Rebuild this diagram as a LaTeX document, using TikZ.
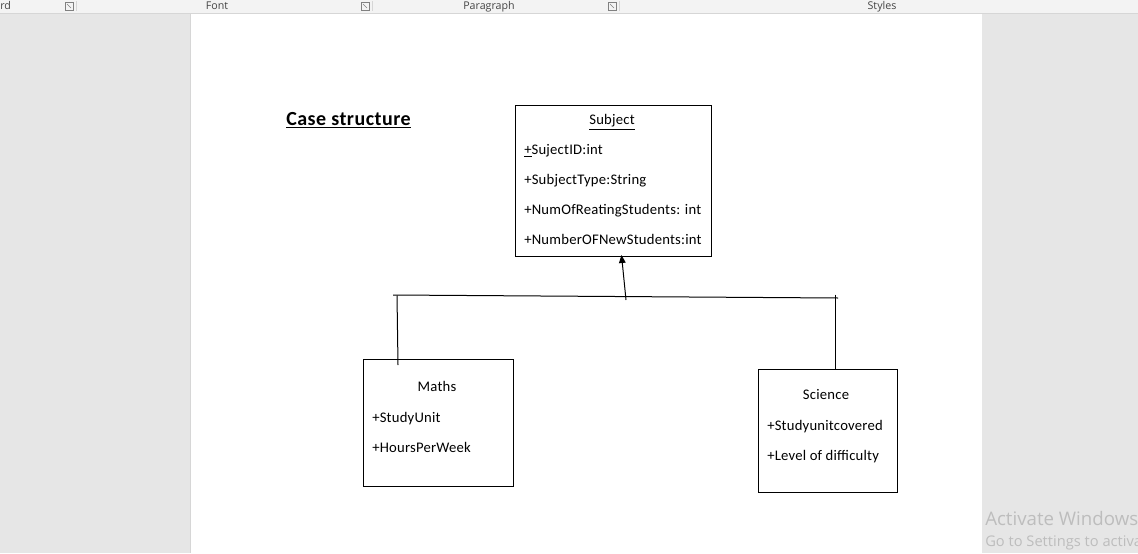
\documentclass[tikz,border=0pt]{standalone}
\usepackage{fontspec}
\setmainfont{Carlito}
\newfontfamily\uifont{Open Sans}
\usetikzlibrary{arrows.meta}

\definecolor{ribbon}{HTML}{F3F3F3}
\definecolor{ribbonline}{HTML}{D6D6D6}
\definecolor{desk}{HTML}{E6E6E6}
\definecolor{uitext}{HTML}{444444}
\definecolor{watermark}{HTML}{BDBDBD}

\tikzset{
  umlbox/.style={draw, line width=0.75pt, inner sep=0pt},
  attr/.style={anchor=base west, inner sep=0pt, font=\addfontfeatures{LetterSpace=1.5}\fontsize{11}{13}\selectfont},
  classname/.style={anchor=base, inner sep=0pt, font=\addfontfeatures{LetterSpace=1.5}\fontsize{11}{13}\selectfont},
  grouplabel/.style={anchor=base, inner sep=0pt, text=uitext, font=\uifont\fontsize{8}{9}\selectfont},
  launcher/.style={draw=gray, line width=0.5pt},
  link/.style={line width=0.75pt},
}

\begin{document}
\begin{tikzpicture}[x=0.75pt, y=-0.75pt]
  \def\px{0.75pt} % one screen pixel
  \useasboundingbox (0,0) rectangle (1138,553);
  \clip (0,0) rectangle (1138,553);

  % window and page
  \fill[desk] (0,14) rectangle (1138,553);
  \fill[white] (191,14) rectangle (982,553);
  \draw[ribbonline, line width=0.75pt] (190.5,14) -- (190.5,553);

  % ribbon strip
  \fill[ribbon] (0,0) rectangle (1138,13);
  \draw[ribbonline, line width=0.75pt] (0,13.5) -- (1138,13.5);
  \node[grouplabel, anchor=base west] (grpClip) at (0,9) {rd};
  \node[grouplabel] (grpFont) at (217,9) {Font};
  \node[grouplabel] (grpPara) at (489,9) {Paragraph};
  \node[grouplabel] (grpStyles) at (882,9) {Styles};
  \foreach \lx/\sx in {65/76, 361/372, 608/619}{
    \draw[launcher] (\lx,2) rectangle (\lx+8,10);
    \draw[launcher] (\lx+2,4) -- (\lx+6,8);
    \draw[ribbonline] (\sx,1) -- (\sx,11);
  }

  % heading
  \node[anchor=base west, inner sep=0pt, font=\bfseries\addfontfeatures{LetterSpace=2.5}\fontsize{15}{18}\selectfont] (heading) at (286,125.5) {\underline{Case structure}};

  % class boxes
  \node[umlbox, minimum width=196*\px, minimum height=151*\px] (subject) at (613,180.5) {};
  \node[umlbox, minimum width=150*\px, minimum height=127*\px] (maths) at (438,422.5) {};
  \node[umlbox, minimum width=139*\px, minimum height=123*\px] (science) at (827.5,430.5) {};

  % class names
  \node[classname] (subjectName) at (612,124.5) {\underline{Subject}};
  \node[classname] (mathsName) at (437,391.5) {Maths};
  \node[classname] (scienceName) at (826,399.5) {Science};

  % attributes
  \foreach \t [count=\k] in {\underline{+}SujectID:int, +SubjectType:String, +NumOfReatingStudents: int, +NumberOFNewStudents:int}
    \node[attr] (subjectAttr\k) at (524,124.5+30*\k) {\t};
  \foreach \t [count=\k] in {+StudyUnit, +HoursPerWeek}
    \node[attr] (mathsAttr\k) at (372,391.5+30.5*\k) {\t};
  \foreach \t [count=\k] in {+Studyunitcovered, +Level of difficulty}
    \node[attr] (scienceAttr\k) at (767,399.5+30.5*\k) {\t};

  % inheritance lines
  \coordinate (barL) at (393,295);
  \coordinate (barR) at (838,298);
  \coordinate (dropL) at (397,295.5);
  \coordinate (dropLend) at (398,365);
  \coordinate (dropR) at (835.5,294.5);
  \coordinate (arrowFoot) at (626,300);
  \coordinate (arrowTip) at (621.5,255);
  \draw[link] (barL) -- (barR);
  \draw[link] (dropL) -- (dropLend);
  \draw[link] (dropR) -- (dropR |- science.north);
  \draw[link, -{Triangle[length=6pt, width=5pt]}] (arrowFoot) -- (arrowTip);

  % watermark
  \node[anchor=base west, inner sep=0pt, text=watermark, font=\uifont\fontsize{14}{16}\selectfont] (wmTitle) at (985,525) {Activate Windows};
  \node[anchor=base west, inner sep=0pt, text=watermark, font=\uifont\fontsize{11}{13}\selectfont] (wmHint) at (985,546) {Go to Settings to activate Windows.};
\end{tikzpicture}
\end{document}
